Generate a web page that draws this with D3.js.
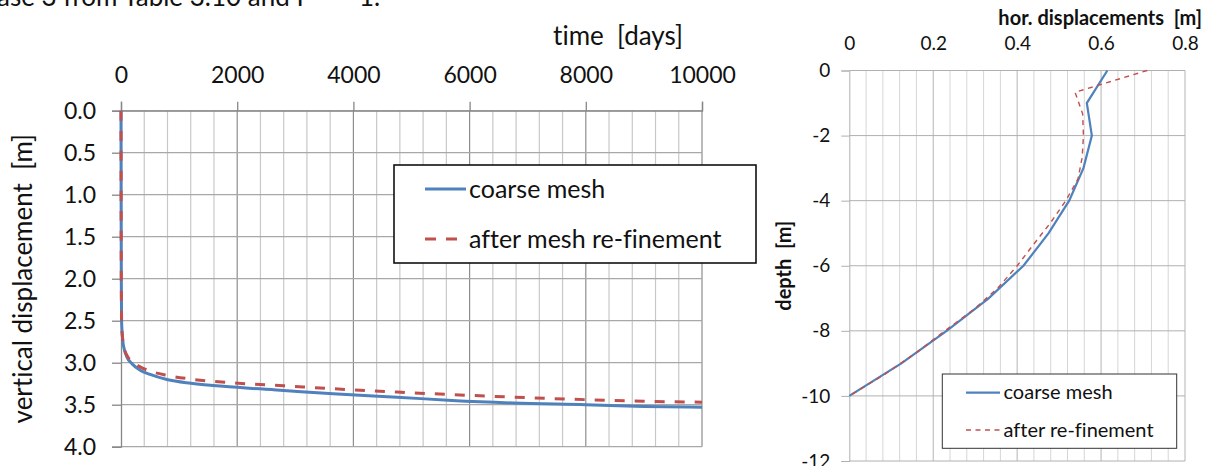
<!DOCTYPE html>
<html>
<head>
<meta charset="utf-8">
<script src="https://cdn.jsdelivr.net/npm/d3@7"></script>
<style>
  html, body { margin: 0; padding: 0; background: #fff; }
  svg { display: block; font-family: Lato, "Open Sans", sans-serif; font-variant-ligatures: none; }
  svg text { white-space: pre; }
</style>
</head>
<body>
<svg id="fig" width="1218" height="466"></svg>
<script>
// ---- settlement over time (left panel) ----
const timeDays      = [0, 2, 5, 10, 30, 60, 100, 200, 330, 500, 790, 1200, 1930, 2800, 3650, 4750, 5700, 6750, 8000, 9000, 10000];
const vertCoarse    = [0, 1.0, 2.0, 2.5, 2.73, 2.85, 2.93, 3.02, 3.09, 3.14, 3.20, 3.245, 3.29, 3.33, 3.37, 3.41, 3.45, 3.48, 3.50, 3.52, 3.53];
const vertRefined   = [0, 1.0, 2.0, 2.5, 2.73, 2.84, 2.91, 2.99, 3.05, 3.10, 3.15, 3.195, 3.24, 3.275, 3.31, 3.35, 3.38, 3.41, 3.44, 3.46, 3.47];
const timeTicks     = [0, 2000, 4000, 6000, 8000, 10000];
const vertTicks     = [0, 0.5, 1.0, 1.5, 2.0, 2.5, 3.0, 3.5, 4.0];
const leftSeriesNames = ["coarse mesh", "after mesh re-finement"];

// ---- horizontal displacement profile (right panel) ----
const depthCoarse   = [0, -1, -2, -3, -4, -5, -6, -7, -8, -9, -10];
const horCoarse     = [0.615, 0.566, 0.578, 0.558, 0.524, 0.475, 0.415, 0.332, 0.232, 0.124, 0];
const depthRefined  = [0, -0.67, -1.33, -2, -2.67, -3.33, -4, -4.67, -5.33, -6, -6.67, -7.33, -8, -8.67, -9.33, -10];
const horRefined    = [0.71, 0.538, 0.556, 0.558, 0.555, 0.545, 0.516, 0.48, 0.44, 0.40, 0.355, 0.298, 0.228, 0.16, 0.085, 0];
const horTicks      = [0, 0.2, 0.4, 0.6, 0.8];
const depthTicks    = [0, -2, -4, -6, -8, -10, -12];
const rightSeriesNames = ["coarse mesh", "after re-finement"];

const BLUE = "#4f81bd", RED = "#c0504d";
const svg = d3.select("#fig");

// clipped caption line running along the top edge
svg.append("text").attr("x", -3).attr("y", 5.5)
  .attr("font-size", 26).attr("fill", "#111")
  .text("ase 3 from Table 3.10 and F    = 1.");

// ================= left panel =================
const xL = d3.scaleLinear().domain([0, 10000]).range([121, 702]);
const yL = d3.scaleLinear().domain([0, 4]).range([110.7, 446.7]);
const gL = svg.append("g");

// minor vertical grid every 400 days
gL.append("g").selectAll("line").data(d3.range(400, 10001, 400).filter(t => t % 2000 !== 0))
  .join("line")
  .attr("x1", d => xL(d)).attr("x2", d => xL(d))
  .attr("y1", yL(0)).attr("y2", yL(4))
  .attr("stroke", "#c8c8c8").attr("stroke-width", 1.2);
// major vertical grid
gL.append("g").selectAll("line").data(timeTicks.slice(1))
  .join("line")
  .attr("x1", d => xL(d)).attr("x2", d => xL(d))
  .attr("y1", yL(0)).attr("y2", yL(4))
  .attr("stroke", "#8e8e8e").attr("stroke-width", 1.2);
// horizontal grid
gL.append("g").selectAll("line").data(vertTicks)
  .join("line")
  .attr("x1", xL(0)).attr("x2", xL(10000))
  .attr("y1", d => yL(d)).attr("y2", d => yL(d))
  .attr("stroke", "#a8a8a8").attr("stroke-width", 1.2);

// axes
const axTop = gL.append("g").attr("transform", `translate(0,${yL(0)})`)
  .call(d3.axisTop(xL).tickValues(timeTicks).tickSize(9).tickPadding(19).tickFormat(d3.format("d")));
const axLeft = gL.append("g").attr("transform", `translate(${xL(0)},0)`)
  .call(d3.axisLeft(yL).tickValues(vertTicks).tickSize(9).tickPadding(16).tickFormat(d3.format(".1f")));
[axTop, axLeft].forEach(a => {
  a.select(".domain").attr("stroke", "#868686").attr("stroke-width", 1.3);
  a.selectAll(".tick line").attr("stroke", "#868686").attr("stroke-width", 1.3);
  a.selectAll(".tick text").attr("font-size", 23).attr("fill", "#111").attr("font-family", "Lato, sans-serif");
});

svg.append("text").attr("x", 618).attr("y", 45).attr("text-anchor", "middle")
  .attr("font-size", 26).attr("fill", "#111").text("time  [days]");
svg.append("text").attr("transform", `translate(32,${(yL(0) + yL(4)) / 2}) rotate(-90)`)
  .attr("text-anchor", "middle").attr("font-size", 26).attr("fill", "#111")
  .text("vertical displacement  [m]");

const lineL = d3.line().curve(d3.curveMonotoneX).x(d => xL(d[0])).y(d => yL(d[1]));
gL.append("path").datum(timeDays.map((t, i) => [t, vertCoarse[i]]))
  .attr("d", lineL).attr("fill", "none").attr("stroke", BLUE).attr("stroke-width", 3);
gL.append("path").datum(timeDays.map((t, i) => [t, vertRefined[i]]))
  .attr("d", lineL).attr("fill", "none").attr("stroke", RED).attr("stroke-width", 3)
  .attr("stroke-dasharray", "10,10");

// legend
const lgL = svg.append("g");
lgL.append("rect").attr("x", 394).attr("y", 165).attr("width", 362).attr("height", 98)
  .attr("fill", "#fff").attr("stroke", "#111").attr("stroke-width", 1.6);
lgL.append("line").attr("x1", 425).attr("x2", 466).attr("y1", 189).attr("y2", 189)
  .attr("stroke", BLUE).attr("stroke-width", 3);
lgL.append("line").attr("x1", 425).attr("x2", 457).attr("y1", 239).attr("y2", 239)
  .attr("stroke", RED).attr("stroke-width", 3).attr("stroke-dasharray", "11,10");
lgL.selectAll("text.lab").data(leftSeriesNames).join("text")
  .attr("x", 469).attr("y", (d, i) => 198 + i * 50)
  .attr("font-size", 25).attr("fill", "#111").text(d => d);

// ================= right panel =================
const xR = d3.scaleLinear().domain([0, 0.8]).range([849.3, 1185]);
const yR = d3.scaleLinear().domain([0, -12]).range([70.5, 461]);
const gR = svg.append("g");

gR.append("g").selectAll("line").data(d3.range(1, 21).map(i => i * 0.04))
  .join("line")
  .attr("x1", d => xR(d)).attr("x2", d => xR(d))
  .attr("y1", yR(0)).attr("y2", yR(-12))
  .attr("stroke", d => (Math.round(d * 100) % 20 === 0 ? "#b4b4b4" : "#d6d6d6"))
  .attr("stroke-width", 1);
gR.append("g").selectAll("line").data(depthTicks)
  .join("line")
  .attr("x1", xR(0)).attr("x2", xR(0.8))
  .attr("y1", d => yR(d)).attr("y2", d => yR(d))
  .attr("stroke", "#b0b0b0").attr("stroke-width", 1);

const axRT = gR.append("g").attr("transform", `translate(0,${yR(0)})`)
  .call(d3.axisTop(xR).tickValues(horTicks).tickSize(0).tickPadding(21).tickFormat(d => d === 0 ? "0" : d3.format(".1f")(d)));
const axRL = gR.append("g").attr("transform", `translate(${xR(0)},0)`)
  .call(d3.axisLeft(yR).tickValues(depthTicks).tickSize(8).tickPadding(11).tickFormat(d => String(d)));
axRT.select(".domain").remove();
axRL.select(".domain").attr("stroke", "#b0b0b0");
axRL.selectAll(".tick line").attr("stroke", "#b0b0b0");
[axRT, axRL].forEach(a => a.selectAll(".tick text")
  .attr("font-size", 19).attr("fill", "#111").attr("font-family", "Lato, sans-serif"));

svg.append("text").attr("x", 1202).attr("y", 25).attr("text-anchor", "end")
  .attr("font-size", 20).attr("font-weight", "bold").attr("fill", "#111")
  .text("hor. displacements  [m]");
svg.append("text").attr("transform", `translate(791,${(yR(0) + yR(-12)) / 2}) rotate(-90)`)
  .attr("text-anchor", "middle").attr("font-size", 20).attr("font-weight", "bold").attr("fill", "#111")
  .text("depth  [m]");

const lineR = d3.line().x(d => xR(d[0])).y(d => yR(d[1]));
gR.append("path").datum(depthCoarse.map((z, i) => [horCoarse[i], z]))
  .attr("d", lineR).attr("fill", "none").attr("stroke", BLUE).attr("stroke-width", 2.2);
gR.append("path").datum(depthRefined.map((z, i) => [horRefined[i], z]))
  .attr("d", lineR).attr("fill", "none").attr("stroke", RED).attr("stroke-width", 1.4)
  .attr("stroke-dasharray", "5,4.5");

const lgR = svg.append("g");
lgR.append("rect").attr("x", 942.3).attr("y", 374).attr("width", 234.4).attr("height", 74.3)
  .attr("fill", "#fff").attr("stroke", "#333").attr("stroke-width", 1);
lgR.append("line").attr("x1", 966).attr("x2", 1000).attr("y1", 392.7).attr("y2", 392.7)
  .attr("stroke", BLUE).attr("stroke-width", 2.2);
lgR.append("line").attr("x1", 966).attr("x2", 1000).attr("y1", 430).attr("y2", 430)
  .attr("stroke", RED).attr("stroke-width", 1.4).attr("stroke-dasharray", "5,4.5");
lgR.selectAll("text.lab").data(rightSeriesNames).join("text")
  .attr("x", 1003.5).attr("y", (d, i) => 399 + i * 37.5)
  .attr("font-size", 20).attr("fill", "#111").text(d => d);
</script>
</body>
</html>
